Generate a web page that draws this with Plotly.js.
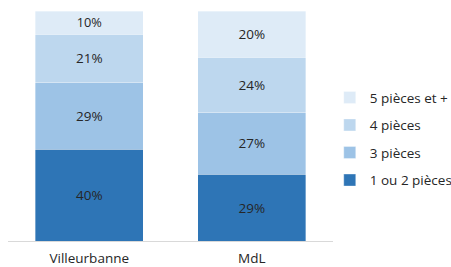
<!DOCTYPE html>
<html><head><meta charset="utf-8">
<script src="https://cdn.plot.ly/plotly-3.0.1.min.js"></script>
<style>body{margin:0;background:#fff}#c{width:451px;height:267px}</style>
</head><body><div id="c"></div>
<script>
const categories = ["Villeurbanne", "MdL"];
const seriesNames = ["1 ou 2 pièces", "3 pièces", "4 pièces", "5 pièces et +"];
const s1ou2 = [40, 29];
const s3 = [29, 27];
const s4 = [21, 24];
const s5plus = [10, 20];
const colors = ["#2E75B6", "#9DC3E6", "#BDD7EE", "#DEEBF7"];
const values = [s1ou2, s3, s4, s5plus];

const traces = values.map((v, i) => ({
  type: "bar",
  name: seriesNames[i],
  legendgroup: "g" + i,
  legendrank: 10 - i,
  x: categories,
  y: v,
  text: v.map(x => x + "%"),
  textposition: "inside",
  insidetextanchor: "middle",
  textangle: 0,
  textfont: {family: "Open Sans, sans-serif", size: 13.5, color: "#262626"},
  marker: {color: colors[i], line: {color: "rgba(255,255,255,0.5)", width: 0.7}},
  hoverinfo: "none"
}));

const layout = {
  width: 451, height: 267,
  margin: {l: 8, r: 118, t: 11, b: 26, autoexpand: false},
  barmode: "stack",
  bargap: 0.335,
  paper_bgcolor: "#fff", plot_bgcolor: "#fff",
  font: {family: "Open Sans, sans-serif", size: 13.5, color: "#262626"},
  xaxis: {showline: true, linecolor: "#d9d9d9", linewidth: 1, ticks: "", showgrid: false,
          ticklabelstandoff: 5, tickfont: {size: 13.5, color: "#262626"}},
  yaxis: {range: [0, 100], visible: false, showgrid: false, zeroline: false},
  showlegend: true,
  legend: {x: 0.99, xanchor: "left", y: 0.443, yanchor: "middle",
           traceorder: "grouped", tracegroupgap: 7,
           font: {size: 13.5, color: "#262626"}, itemwidth: 30}
};
Plotly.newPlot("c", traces, layout, {displayModeBar: false, staticPlot: true});
</script></body></html>
